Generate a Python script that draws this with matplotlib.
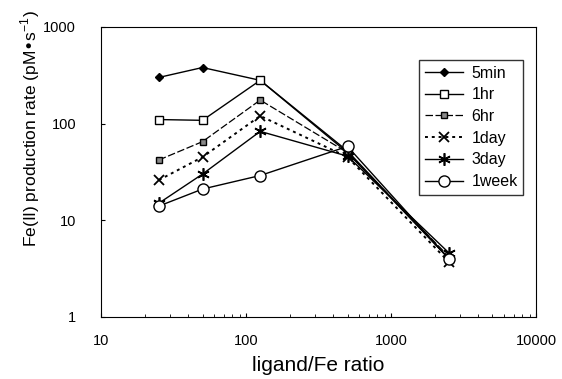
import numpy as np
import matplotlib.pyplot as plt

plt.rcParams['font.family'] = ['Liberation Sans', 'DejaVu Sans']

# ligand/Fe ratio
ratio = [25, 50, 125, 500, 2500]

# Fe(II) production rate (pM/s)
r_5min = [300, 380, 280, 52, 4.0]
r_1hr = [110, 108, 280, 50, 4.0]
r_6hr = [42, 65, 175, 50, 4.2]
r_1day = [26, 45, 120, 45, 3.7]
r_3day = [15, 30, 83, 46, 4.6]
r_1week = [14, 21, 29, 58, 4.0]

labels = ['5min', '1hr', '6hr', '1day', '3day', '1week']

fig = plt.figure(figsize=(5.62, 3.79), dpi=100)
ax = fig.add_axes([0.18, 0.164, 0.774, 0.765])

ax.plot(ratio, r_5min, color='black', lw=1.0, marker='D', ms=4,
        mfc='black', label=labels[0])
ax.plot(ratio, r_1hr, color='black', lw=1.0, marker='s', ms=6,
        mfc='white', label=labels[1])
ax.plot(ratio, r_6hr, color='black', lw=0.9, ls=(0, (6, 2)), marker='s', ms=5,
        mfc='#888888', label=labels[2])
ax.plot(ratio, r_1day, color='black', lw=1.4, ls=(0, (1.5, 2)), marker='x', ms=7,
        mew=1.3, label=labels[3])
ax.plot(ratio, r_3day, color='black', lw=1.0, marker=(6, 2, 0), ms=9,
        mew=1.2, label=labels[4])
ax.plot(ratio, r_1week, color='black', lw=1.0, marker='o', ms=8,
        mfc='white', label=labels[5])

ax.set_xscale('log')
ax.set_yscale('log')
ax.set_xlim(10, 10000)
ax.set_ylim(1, 1000)
ax.set_xticks([10, 100, 1000, 10000])
ax.set_xticklabels(['10', '100', '1000', '10000'])
ax.set_yticks([1, 10, 100, 1000])
ax.set_yticklabels(['1', '10', '100', '1000'])
ax.tick_params(axis='both', which='major', direction='in', length=3,
               labelsize=10.5)
ax.tick_params(axis='x', which='major', pad=12)
ax.tick_params(axis='y', which='major', pad=18)
ax.tick_params(axis='both', which='minor', direction='in', length=2)
ax.tick_params(axis='y', which='minor', left=False)

ax.set_xlabel('ligand/Fe ratio', fontsize=15, labelpad=6)
ax.set_ylabel('Fe(II) production rate (pM•s$^{\\mathregular{-1}}$)', fontsize=12.5)
ax.yaxis.set_label_coords(-0.135, 0.65)

leg = ax.legend(loc='upper right', bbox_to_anchor=(0.97, 0.886),
                borderaxespad=0, fontsize=11.5, frameon=True, fancybox=False,
                edgecolor='black', handlelength=2.4, handletextpad=0.5,
                labelspacing=0.42, borderpad=0.35)
leg.get_frame().set_linewidth(1.0)

fig.savefig('out.png', dpi=100)
